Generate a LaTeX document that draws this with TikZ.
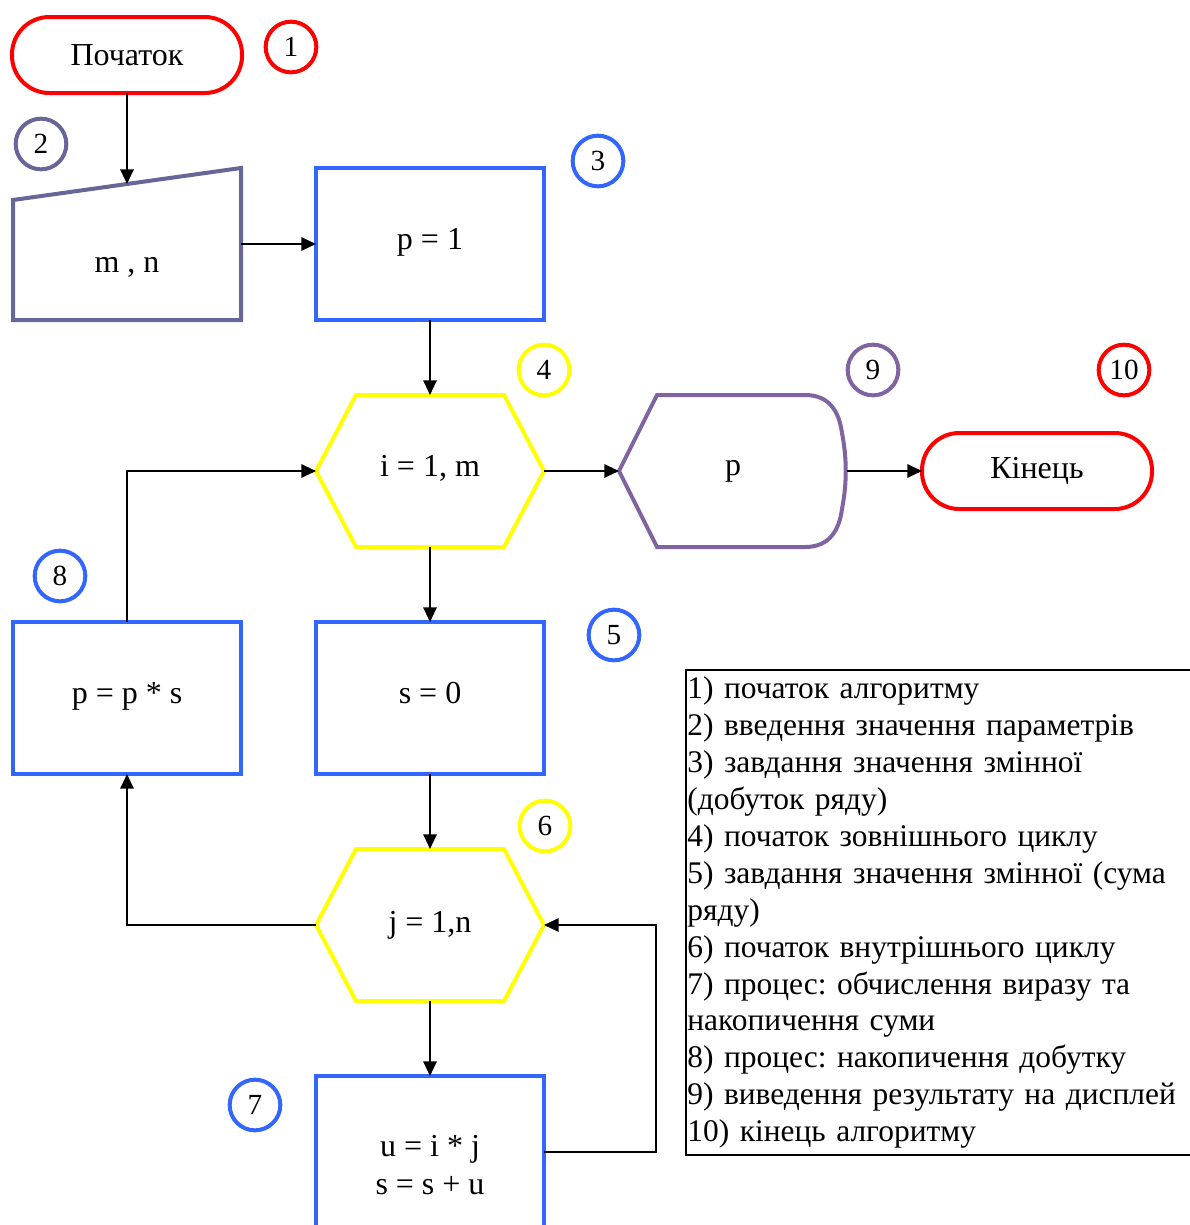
\documentclass[tikz,border=0pt,12pt]{standalone}
\usepackage{fontspec}
\setmainfont{Liberation Serif}
\usepackage{tikz}
\usetikzlibrary{arrows.meta,positioning}
\definecolor{termred}{RGB}{255,0,0}
\definecolor{paramgray}{RGB}{102,102,153}
\definecolor{blockblue}{RGB}{51,102,255}
\definecolor{loopyellow}{RGB}{255,255,0}
\definecolor{showpurple}{RGB}{128,100,162}
\frenchspacing

\begin{document}
\begin{tikzpicture}
 [
 x=0.375pt, y=-0.375pt,
 node distance=28.125pt,
 every node/.style={outer sep=0pt},
 term/.style={
  rectangle,
  rounded corners=14pt,
  draw=termred,
  line width=1.5pt, % border
  minimum width=86.25pt,
  minimum height=28.5pt},
 block/.style={
  rectangle,
  draw=blockblue,
  line width=1.5pt,
  minimum width=85.5pt,
  minimum height=57pt},
 hollow/.style={rectangle, minimum width=85.5pt, minimum height=57pt},
 hexline/.style={draw=loopyellow, line width=1.5pt},
 inline/.style={draw=paramgray, line width=1.5pt},
 outline/.style={draw=showpurple, line width=1.5pt},
 num/.style={circle, line width=1.5pt, minimum size=19pt, inner sep=0pt, font=\small},
 tip/.style={-{Triangle[length=5.5pt,width=5pt]}, line width=0.75pt}]
\useasboundingbox (0,0) rectangle (1190,1225);
\clip (0,0) rectangle (1190,1225);
\node (start) [term] at (127,55) {Початок};
\node (params) [hollow, below=of start, text height=23.7pt, text depth=2.5pt] {m , n};
\node (pinit) [block, right=of params, text depth=3.5pt] {p = 1};
\node (outer) [hollow, below=of pinit, text depth=3.5pt] {i = 1, m};
\node (show) [hollow, right=of outer] {p};
\node (finish) [term, right=of show] {Кінець};
\node (sinit) [block, below=of outer, text depth=4pt] {s = 0};
\node (pmul) [block, left=of sinit, text depth=4pt] {p = p * s};
\node (inner) [hollow, below=of sinit] {j = 1,n};
\node (body) [block, below=of inner, minimum height=66.75pt, align=center] {u = i * j\\ s = s + u};
% outlines of the special shapes
\draw [inline, shift={(params.center)}] (-114,-44) -- (114,-76) -- (114,76) -- (-114,76) -- cycle;
\path [shift={(params.center)}] (0,-60) coordinate (paramstop);
\draw [hexline, shift={(outer.center)}] (-114,0) -- (-74,-76) -- (74,-76) -- (114,0) -- (74,76) -- (-74,76) -- cycle;
\draw [hexline, shift={(inner.center)}] (-114,0) -- (-74,-76) -- (74,-76) -- (114,0) -- (74,76) -- (-74,76) -- cycle;
\draw [outline, shift={(show.center)}] (-114,0) -- (-76,-76) -- (72,-76)
  .. controls (96,-76) and (106,-60) .. (109,-38)
  .. controls (114,-12) and (114,12) .. (109,38)
  .. controls (106,60) and (96,76) .. (72,76) -- (-76,76) -- cycle;
% numbers
\node (n1) [num, draw=termred] at (291,47) {1};
\node (n2) [num, draw=paramgray] at (41,144) {2};
\node (n3) [num, draw=blockblue] at (598,161) {3};
\node (n4) [num, draw=loopyellow] at (544,370) {4};
\node (n5) [num, draw=blockblue] at (614,635) {5};
\node (n6) [num, draw=loopyellow] at (545,826) {6};
\node (n7) [num, draw=blockblue] at (255,1105) {7};
\node (n8) [num, draw=blockblue] at (60,576) {8};
\node (n9) [num, draw=showpurple] at (873,370) {9};
\node (n10) [num, draw=termred] at (1124,370) {10};
% legend
\node (notes) [anchor=north west, draw, line width=0.75pt, text width=190pt,
  inner xsep=0.5pt, inner ysep=2.6pt, align=left,
  font=\fontsize{11.8}{13.84}\selectfont] at (686,670)
 {1) початок алгоритму\\
  2) введення значення параметрів\\
  3) завдання значення змінної\\
  (добуток ряду)\\
  4) початок зовнішнього циклу\\
  5) завдання значення змінної (сума\\
  ряду)\\
  6) початок внутрішнього циклу\\
  7) процес: обчислення виразу та\\
  накопичення суми\\
  8) процес: накопичення добутку\\
  9) виведення результату на дисплей\\
  10) кінець алгоритму};
% connectors
\draw [tip] (start) -- (paramstop);
\draw [tip] (params.east) -- (pinit.west);
\draw [tip] (pinit) -- (outer);
\draw [tip] (outer) -- (show);
\draw [tip] (show) -- (finish);
\draw [tip] (outer) -- (sinit);
\draw [tip] (sinit) -- (inner);
\draw [tip] (inner) -- (body);
\draw [tip] (pmul.north) |- (outer.west);
\draw [tip] (inner.west) -| (pmul.south);
\draw [tip] ([yshift=4.875pt]body.east) -- ++(112,0) |- (inner.east);
\end{tikzpicture}
\end{document}
